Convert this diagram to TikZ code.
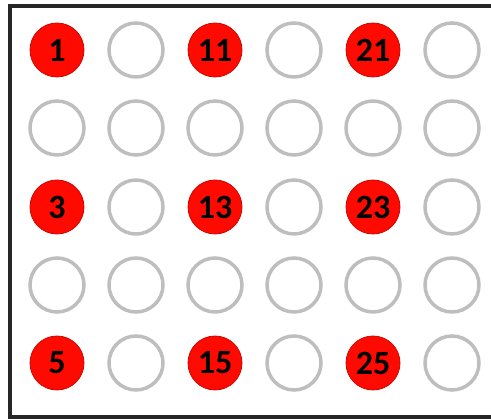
\documentclass[tikz,border=0pt]{standalone}
\usepackage{fontspec}
\setmainfont{Carlito}
\definecolor{ringgray}{RGB}{190,190,190}
\definecolor{dotred}{RGB}{255,10,0}
\tikzset{
  x=1pt,y=1pt,
  reddot/.style={circle,fill=dotred,draw=dotred!80!black,line width=0.8pt,minimum size=54pt,inner sep=0pt,font=\fontsize{34}{34}\selectfont\bfseries,text=black},
  ring/.style={circle,draw=ringgray,line width=3.5pt,minimum size=54pt,inner sep=0pt},
  frame/.style={line width=4.5pt,draw=black!85}
}
\begin{document}
\begin{tikzpicture}
\useasboundingbox (0,0) rectangle (491,419);
\fill[white] (0,0) rectangle (491,419);
% frame
\coordinate (tl) at (10,413);
\coordinate (tr) at (495,413);
\coordinate (bl) at (10,2);
\coordinate (br) at (495,2);
\draw[frame] (tr) -- (tl) -- (bl) -- (br);
% empty rings, even columns
\foreach \c/\xx in {2/136,4/294,6/452}{
  \foreach \r/\yy in {1/369,2/291,3/212,4/134,5/56}{
    \node[ring] (n\c\r) at (\xx,\yy) {};
  }
}
% empty rings, odd columns
\foreach \c/\xx in {1/57,3/215,5/373}{
  \foreach \r/\yy in {2/291,4/134}{
    \node[ring] (n\c\r) at (\xx,\yy) {};
  }
}
\node[reddot] (r1) at (57,369) {1};
\node[reddot] (r3) at (57,212) {3};
\node[reddot] (r5) at (57,56) {5};
\node[reddot] (r11) at (215,369) {11};
\node[reddot] (r13) at (215,212) {13};
\node[reddot] (r15) at (215,56) {15};
\node[reddot] (r21) at (373,369) {21};
\node[reddot] (r23) at (373,212) {23};
\node[reddot] (r25) at (373,56) {25};
\end{tikzpicture}
\end{document}
